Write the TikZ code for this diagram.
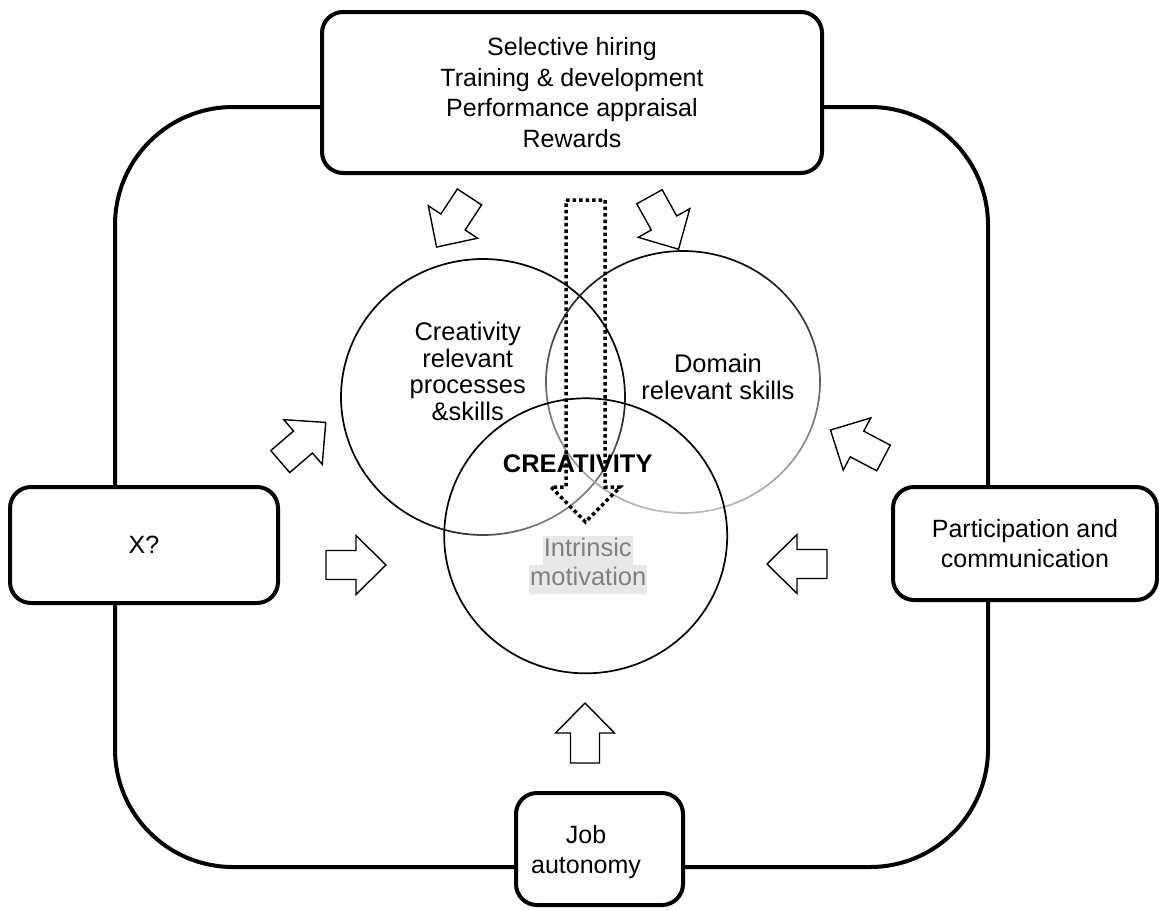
\documentclass[tikz,border=0pt]{standalone}
\usepackage{fontspec}
\setmainfont{Liberation Sans}
\usetikzlibrary{calc}

\newcommand{\hollowarrow}[2]{%
  \draw[hollow, shift={(#1)}, rotate=#2] (-30,-14.5) -- (0,-14.5) -- (0,-29.5)
    -- (30,0) -- (0,29.5) -- (0,14.5) -- (-30,14.5) -- cycle;}
\newcommand{\shadedring}[4]{%
  \foreach \a in {0,4,...,356}{
    \pgfmathtruncatemacro\f{#4}
    \draw[ring, black!\f] (#1) ++(\a:#2 and #3) arc[start angle=\a, delta angle=4, x radius=#2, y radius=#3];}}

\begin{document}
\begin{tikzpicture}[x=1pt, y=-1pt,
  txt/.style={font=\fontsize{25}{30.5}\selectfont, align=center, inner sep=0pt},
  ctxt/.style={font=\fontsize{25.5}{26.7}\selectfont, align=center, inner sep=0pt},
  box/.style={draw, line width=4pt, rounded corners=21pt, fill=white, txt},
  frame/.style={draw, line width=4pt, rounded corners=118pt},
  ring/.style={line width=1.7pt, line cap=round},
  hollow/.style={draw, line width=1.4pt, fill=white},
  dotarrow/.style={draw, line width=3.5pt, dash pattern=on 3.5pt off 3pt}]

\useasboundingbox (0,0) rectangle (1159,910);

\draw[frame] (115,107) rectangle (988,867);

\node[box, minimum width=500pt, minimum height=161pt] (hrm) at (572,92.5)
  {Selective hiring\\Training \& development\\Performance appraisal\\Rewards};
\node[box, minimum width=268pt, minimum height=116pt] (xq) at (144,545) {X?};
\node[box, minimum width=264pt, minimum height=113pt] (part) at (1025,543.5)
  {Participation and\\communication};
\node[box, minimum width=167pt, minimum height=112pt] (job) at (599.5,849) {};
\node[txt] (jobtxt) at (586,852) {Job\\autonomy};

\hollowarrow{453,222}{236.7}
\hollowarrow{664,223}{-61}
\hollowarrow{303,442}{40.7}
\hollowarrow{356,565}{0}
\hollowarrow{797,564}{180}
\hollowarrow{857,444}{152.2}
\hollowarrow{585,733}{90}

\coordinate (lc) at (483,397);
\coordinate (rc) at (683,382);
\coordinate (bc) at (585.7,535.8);
\shadedring{lc}{142}{138}{100-50*max(0,cos(\a+2-55))^3}
\shadedring{rc}{137}{131}{62-35*sin(\a+2)}
\draw[ring] (bc) ellipse [x radius=141.5, y radius=137.5];

\draw[dotarrow] (566,200) -- (605,200) -- (605,487) -- (620,487) -- (585.5,522)
  -- (551,487) -- (566,487) -- cycle;

\node[ctxt] (crp) at (467.7,371.5) {Creativity\\relevant\\processes\\\&skills};
\node[ctxt] (drs) at (718,376.7) {Domain\\relevant skills};
\node[ctxt, font=\fontsize{25.5}{26.7}\selectfont\bfseries] (crea) at (577.7,463.3) {CREATIVITY};
\node[ctxt, fill=black!9, text=black!50, inner xsep=1pt, text height=19pt, text depth=7pt,
  inner ysep=1.5pt] (im1) at (587.8,550.5) {Intrinsic};
\node[ctxt, fill=black!9, text=black!50, inner xsep=1pt, text height=19pt, text depth=7pt,
  inner ysep=1.5pt] (im2) at (588.2,579.7) {motivation};
\end{tikzpicture}
\end{document}
